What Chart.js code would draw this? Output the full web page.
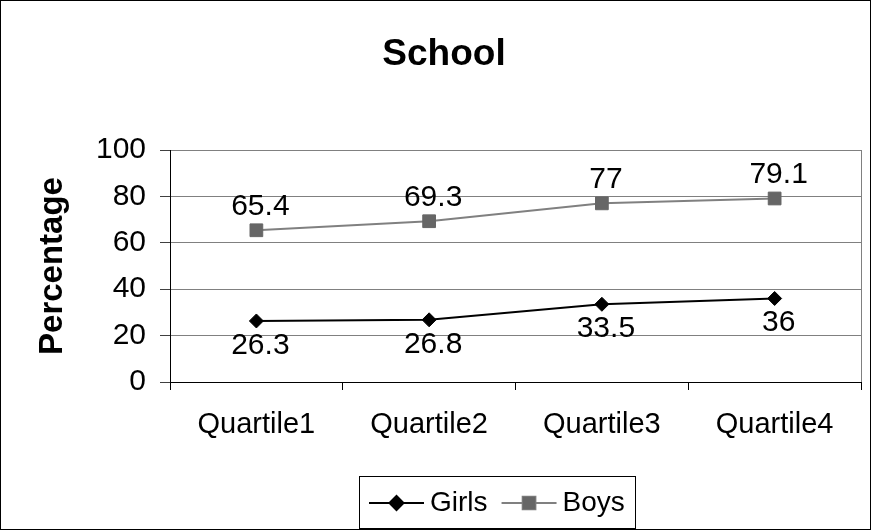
<!DOCTYPE html>
<html>
<head>
<meta charset="utf-8">
<script src="https://cdn.jsdelivr.net/npm/chart.js@4/dist/chart.umd.min.js"></script>
<style>
  html, body { margin: 0; padding: 0; background: #fff; }
  #wrap { width: 871px; height: 530px; position: relative; }
</style>
</head>
<body>
<div id="wrap"><canvas id="c" width="871" height="530"></canvas></div>
<script>
// Chart data
const categories = ['Quartile1', 'Quartile2', 'Quartile3', 'Quartile4'];
const girls = [26.3, 26.8, 33.5, 36];
const boys = [65.4, 69.3, 77, 79.1];
const yTicks = [0, 20, 40, 60, 80, 100];

const FONT = "'Liberation Sans', Arial, sans-serif";

// Value labels: boys above the markers, girls below
const valueLabels = {
  id: 'valueLabels',
  afterDatasetsDraw(chart) {
    const ctx = chart.ctx;
    ctx.save();
    ctx.font = '30px ' + FONT;
    ctx.fillStyle = '#000';
    ctx.textAlign = 'center';
    ctx.textBaseline = 'alphabetic';
    chart.data.datasets.forEach((ds, i) => {
      const meta = chart.getDatasetMeta(i);
      meta.data.forEach((pt, j) => {
        const v = ds.data[j];
        const y = ds.labelPos === 'above' ? pt.y - 15 : pt.y + 33;
        ctx.fillText(String(v), pt.x + 4, y);
      });
    });
    ctx.restore();
  }
};

// Title, frame, right edge of plot area and boxed legend
const decorations = {
  id: 'decorations',
  beforeDatasetsDraw(chart) {
    const {ctx, chartArea} = chart;
    ctx.save();
    ctx.strokeStyle = '#808080';
    ctx.lineWidth = 1;
    ctx.beginPath();
    ctx.moveTo(Math.round(chartArea.right) + 0.5, chartArea.top);
    ctx.lineTo(Math.round(chartArea.right) + 0.5, chartArea.bottom);
    ctx.stroke();
    ctx.restore();
  },
  afterDraw(chart) {
    const ctx = chart.ctx;
    ctx.save();
    // outer frame
    ctx.strokeStyle = '#000';
    ctx.lineWidth = 1;
    ctx.strokeRect(0.5, 0.5, 870, 529);

    // title
    ctx.fillStyle = '#000';
    ctx.font = 'bold 37px ' + FONT;
    ctx.textAlign = 'center';
    ctx.textBaseline = 'middle';
    ctx.fillText('School', 444, 55);

    // legend
    ctx.font = '28px ' + FONT;
    const items = chart.data.datasets.map(ds => ({
      label: ds.label, color: ds.borderColor, fill: ds.pointBackgroundColor,
      style: ds.pointStyle, r: ds.pointRadius
    }));
    const lineLen = 55, gapText = 6, gapItem = 14, pad = 10;
    let content = 0;
    items.forEach((it, k) => {
      it.w = ctx.measureText(it.label).width;
      content += lineLen + gapText + it.w + (k ? gapItem : 0);
    });
    const boxW = content + pad * 2;
    const boxTop = 476, boxBottom = 528, cx = 497;
    const boxLeft = Math.round(cx - boxW / 2);
    ctx.strokeStyle = '#000';
    ctx.strokeRect(boxLeft + 0.5, boxTop + 0.5, Math.round(boxW), boxBottom - boxTop);
    const midY = (boxTop + boxBottom) / 2 + 1;
    let x = boxLeft + pad;
    items.forEach((it, k) => {
      if (k) x += gapItem;
      ctx.strokeStyle = it.color;
      ctx.lineWidth = 2;
      ctx.beginPath();
      ctx.moveTo(x, midY);
      ctx.lineTo(x + lineLen, midY);
      ctx.stroke();
      Chart.helpers.drawPoint(ctx, {
        pointStyle: it.style, radius: it.r, borderWidth: 1, rotation: 0
      }, x + lineLen / 2, midY);
      ctx.fillStyle = it.fill;
      ctx.fill();
      x += lineLen + gapText;
      ctx.fillStyle = '#000';
      ctx.textAlign = 'left';
      ctx.textBaseline = 'middle';
      ctx.fillText(it.label, x, midY);
      x += it.w;
    });
    ctx.restore();
  }
};

new Chart(document.getElementById('c'), {
  type: 'line',
  data: {
    labels: categories,
    datasets: [
      {
        label: 'Girls',
        data: girls,
        labelPos: 'below',
        borderColor: '#000000',
        borderWidth: 2,
        pointStyle: 'rectRot',
        pointRadius: 7,
        pointBackgroundColor: '#000000',
        pointBorderColor: '#000000',
        pointBorderWidth: 1,
        tension: 0
      },
      {
        label: 'Boys',
        data: boys,
        labelPos: 'above',
        borderColor: '#808080',
        borderWidth: 2,
        pointStyle: 'rect',
        pointRadius: 9,
        pointBackgroundColor: '#666666',
        pointBorderColor: '#666666',
        pointBorderWidth: 1,
        tension: 0
      }
    ]
  },
  options: {
    responsive: false,
    animation: false,
    layout: { padding: { top: 150, right: 9, bottom: 0, left: 0 } },
    plugins: {
      legend: { display: false },
      title: { display: false },
      tooltip: { enabled: false }
    },
    scales: {
      x: {
        offset: true,
        afterFit(scale) { scale.height = 148; },
        grid: {
          offset: true,
          drawOnChartArea: false,
          drawTicks: true,
          tickLength: 8,
          color: '#000'
        },
        border: { color: '#000', width: 1 },
        ticks: {
          color: '#000',
          font: { family: FONT, size: 29 },
          padding: 18,
          maxRotation: 0
        }
      },
      y: {
        min: 0,
        max: 100,
        afterFit(scale) { scale.width = 170; },
        afterBuildTicks(scale) { scale.ticks = yTicks.map(v => ({ value: v })); },
        grid: {
          color: '#808080',
          tickColor: '#404040',
          tickLength: 10,
          drawTicks: true
        },
        border: { color: '#000', width: 1 },
        ticks: {
          color: '#000',
          font: { family: FONT, size: 30 },
          padding: 14
        },
        title: {
          display: true,
          text: 'Percentage',
          color: '#000',
          font: { family: FONT, size: 33, weight: 'bold' },
          padding: { top: 33, bottom: 0 }
        }
      }
    }
  },
  plugins: [valueLabels, decorations]
});
</script>
</body>
</html>
